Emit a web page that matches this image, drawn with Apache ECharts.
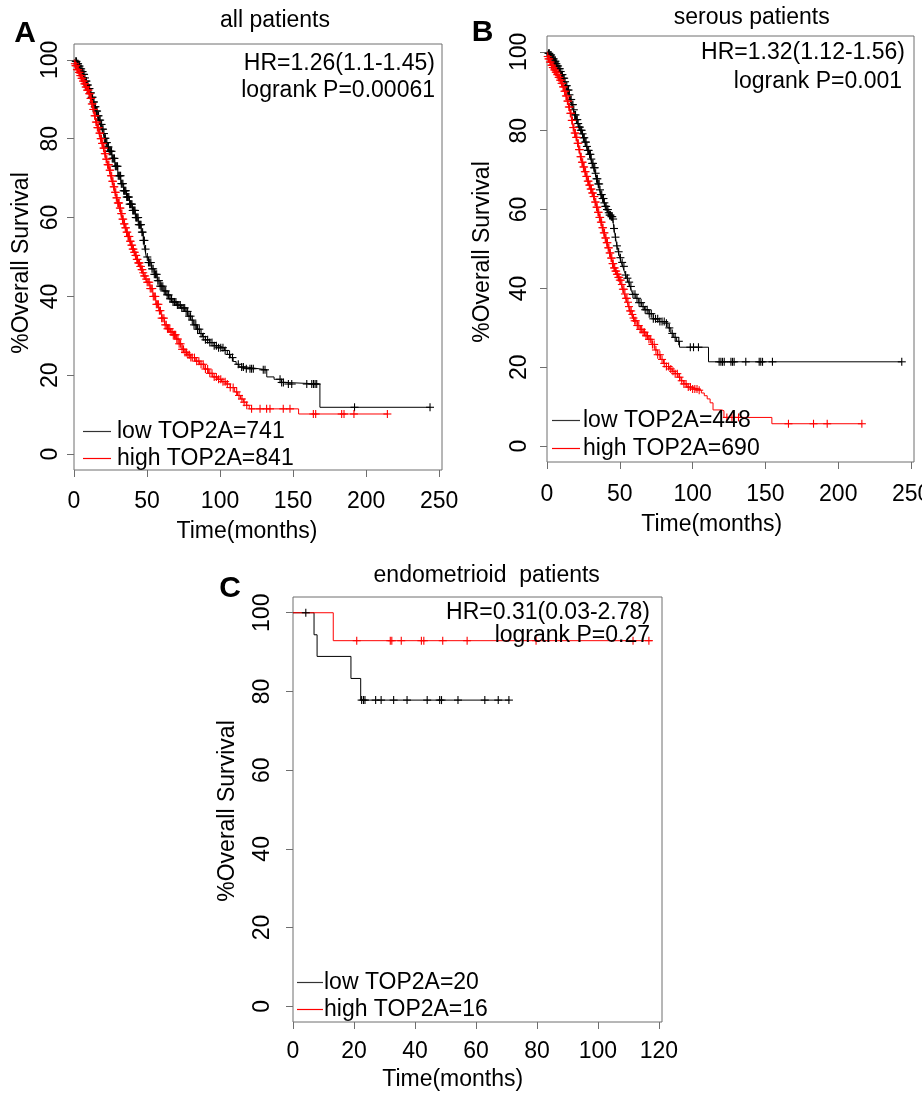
<!DOCTYPE html>
<html>
<head>
<meta charset="utf-8">
<title>TOP2A overall survival</title>
<script src="https://cdn.jsdelivr.net/npm/echarts@6/dist/echarts.min.js"></script>
<style>
  html, body { margin: 0; background: #fff; }
  #chart { width: 922px; height: 1093px; }
</style>
</head>
<body>
<div id="chart"></div>
<script>
// survival curves: [months, % alive] at each step, plus censor times (months)

// A - all patients
const allLowSteps = [[0,100],[1,99.6],[2,99],[3,98.4],[4,97.7],[5,97],[6,96.3],[7,95.4],[8,94.6],[9,93.6],[10,92.7],[11,91.6],[12,90.5],[13,89.3],[14,88.1],[15,87],[16,85.8],[17,84.7],[18,83.6],[19,82.4],[20,81.3],[21,80.1],[22,79],[23,77.9],[24,76.8],[26,75],[28,73],[30,70.6],[32,68.6],[34,66.8],[36,65.2],[38,63.4],[40,61.8],[42,60],[44,58.2],[46,56.3],[47.5,54.2],[48.5,52],[49.5,50],[51,48.6],[53,47],[55,45.6],[57,44],[59,42.6],[61,41.4],[63,40.4],[65,39.4],[67,38.6],[70,37.8],[73,37.1],[76,36.2],[78,35],[80,34],[82,32.8],[84,31.7],[86,30.6],[88,29.8],[90,29],[93,28.3],[96,27.5],[99,27],[103,26.3],[105,25.3],[107,24.5],[109,23.5],[111,22.8],[113,22.1],[118,21.7],[126,21.4],[132,19.6],[137,19],[142,18.2],[145,17.8],[168.4,11.9],[243.8,11.9]];
const allHighSteps = [[0,100],[0.5,99],[1,98.5],[2,97.5],[3,96.8],[4,96],[5,95.3],[6,94.6],[7,93.9],[8,93.1],[9,92.3],[10,91.4],[11,90.2],[12,88.8],[13,87.4],[14,85.8],[15,84.2],[16,82.8],[17,81.4],[18,80],[19,78.8],[20,77.6],[21,76.2],[22,74.8],[23,73.4],[24,72],[25,70.6],[26,69.2],[27,67.8],[28,66.4],[29,65],[30,63.7],[31,62.4],[32,61],[33,59.6],[34,58.4],[35,57.4],[36,56.3],[37,55.2],[38,54],[39,53],[40,52],[41,51.2],[42,50.4],[43,49.4],[44,48.5],[45,47.6],[46,46.8],[47,46],[48,45.2],[49,44.4],[50,43.6],[52,42],[54,40],[56,38],[58,36.4],[60,34.5],[62,32.8],[64,31.8],[66,31],[68,30.3],[70,29.2],[72,28],[74,26.6],[76,25.8],[78,25.2],[80,24.5],[83,23.6],[86,22.8],[89,21.6],[92,20.5],[95,19.6],[98,19],[101,18.4],[104,17.8],[107,16.9],[110,15.8],[112,14.9],[114,14],[116,13.2],[118,12.4],[120,11.5],[153.8,10.2],[215,10.2]];
const allLowCensor = [1.2,1.7,2.3,2.8,3.3,3.8,4.3,4.9,5.4,5.9,6.4,6.9,7.5,8,8.5,9,9.5,10.1,10.6,11.1,11.6,12.1,12.7,13.2,13.7,14.2,14.7,15.3,15.8,16.3,16.8,17.3,17.9,18.4,18.9,19.4,19.9,20.5,21,21.5,22,22.5,23.1,23.6,24.1,24.6,25.1,25.7,26.2,26.7,27.2,27.7,28.3,28.8,29.3,29.8,30.3,30.9,31.4,31.9,32.4,32.9,33.5,34,34.5,35,35.5,36.1,36.6,37.1,37.6,38.1,38.7,39.2,39.7,40.2,40.7,41.3,41.8,42.3,42.8,43.3,43.9,44.4,44.9,45.4,45.9,46.5,47,47.5,48.2,49,50.2,51,51.8,52.6,53.4,54.2,55,55.8,56.6,57.4,58.2,59,59.8,60.8,61.8,62.8,63.8,64.8,65.8,66.8,67.8,68.8,69.8,70.8,71.8,72.8,73.8,74.8,75.8,76.8,77.8,78.8,79.8,81,82.2,83.4,84.6,85.8,87,88.5,90,91.5,93,94.5,96,97.5,99,100.5,102,103.5,106.5,108.5,112.5,114.8,116,118,120.5,121.6,122.8,129.6,130.8,141.1,142.2,143.4,146.8,149.1,159.4,162.8,164,165.1,166.2,192.1,243.8];
const allHighCensor = [0.6,1,1.5,2,2.4,2.9,3.4,3.8,4.3,4.8,5.2,5.7,6.2,6.6,7.1,7.6,8,8.5,9,9.4,9.9,10.4,10.8,11.3,11.8,12.2,12.7,13.2,13.6,14.1,14.6,15,15.5,16,16.4,16.9,17.4,17.8,18.3,18.8,19.2,19.7,20.2,20.6,21.1,21.6,22,22.5,23,23.4,23.9,24.4,24.8,25.3,25.8,26.2,26.7,27.2,27.6,28.1,28.6,29,29.5,30,30.4,30.9,31.4,31.8,32.3,32.8,33.2,33.7,34.2,34.6,35.1,35.6,36,36.5,37,37.4,37.9,38.4,38.8,39.3,39.8,40.2,40.7,41.2,41.6,42.1,42.6,43,43.5,44,44.4,44.9,45.4,45.8,46.3,46.8,47.4,48,48.7,49.4,50.1,50.8,51.5,52.2,52.9,53.6,54.3,55,55.7,56.4,57.1,57.8,58.5,59.2,60,60.8,61.6,62.4,63.2,64,64.8,65.6,66.4,67.2,68,68.8,69.6,70.4,71.2,72,73,74,75,76,77,78,79,80,81,82.5,84,85.5,87,88.5,90,91.5,93,94.5,96,97.5,99,100.5,102,103.5,105,107,109,111.4,113,115,116.5,118.3,121.6,127.4,131.9,134.2,143.3,147.9,163.9,165.5,183.3,184.9,191.7,214.6];

// B - serous patients
const serLowSteps = [[0,100],[1,99.6],[2,99.2],[3,98.7],[4,98.2],[5,97.6],[6,97],[7,96.4],[8,95.7],[9,95],[10,94.2],[11,93.3],[12,92.4],[13,91.4],[14,90.3],[15,89.1],[16,87.9],[17,86.6],[18,85.3],[19,84],[20,82.8],[21,81.8],[22,80.9],[23,80.1],[24,79.2],[25,78.2],[26,77.1],[27,76],[28,75],[29,74],[30,72.8],[31,71.7],[32,70.6],[33,69.2],[34,67.8],[35,66.5],[36,65],[37,63.8],[38,62.8],[39,61.7],[40,60.8],[41,60],[42,59.2],[43,58.6],[44,58.2],[45,57.6],[45.5,56.5],[46,55.2],[47,53],[48,50.8],[49,49.3],[50,47.8],[51,46.6],[52,45.6],[53,44.4],[54,43.4],[55,42.6],[56,41.6],[57,40.5],[58,39.4],[59,38.5],[61,37.5],[63,36.4],[65,35.4],[67,34.6],[70,33.6],[73,32.3],[77,31.6],[81,31.2],[83,30],[85,28.6],[87,27.6],[89,26.6],[91,25.1],[110.9,21.4],[243.6,21.4]];
const serHighSteps = [[0,100],[0.5,98.8],[1,98.2],[2,97.4],[3,96.6],[4,96],[5,95.4],[6,94.8],[7,94.2],[8,93.5],[9,92.8],[10,92],[11,91.1],[12,90],[13,88.8],[14,87.5],[15,86],[16,84.4],[17,82.6],[18,80.8],[19,79.4],[20,78.3],[21,76.8],[22,75.2],[23,73.4],[24,72],[25,70.8],[26,69.6],[27,68.4],[28,67.2],[29,66.2],[30,65.2],[31,64.2],[32,63.3],[33,61.9],[34,60.6],[35,59.3],[36,58],[37,56.8],[38,55.4],[39,54.1],[40,52.8],[41,51.6],[42,50.3],[43,49],[44,47.7],[45,46.3],[46,45.2],[47,44.4],[48,43.6],[49,42.8],[50,42.1],[51,41],[52,39.8],[53,38.6],[54,37.5],[55,36.5],[56,35.4],[57,34.3],[58,33.4],[59,32.5],[60,31.8],[62,30.6],[64,29.6],[66,28.9],[68,28],[70,27.1],[72,25.8],[74,24.4],[76,23.2],[78,22],[80,21],[82,20.2],[84,19.6],[86,19],[88,18.4],[90,17.5],[92,16.6],[94,15.8],[96,15],[99,14.5],[104,14.2],[106,13.5],[108,12.8],[110,12],[112,11],[114,9.2],[120,9],[121.5,7.3],[154.4,5.7],[216.2,5.7]];
const serLowCensor = [1,1.6,2.2,2.8,3.4,4,4.6,5.2,5.8,6.4,7,7.6,8.2,8.8,9.4,10,10.6,11.2,11.8,12.4,13,13.6,14.2,14.8,15.4,16,16.6,17.2,17.8,18.4,19,19.6,20.2,20.8,21.4,22,22.6,23.2,23.8,24.4,25,25.6,26.2,26.8,27.4,28,28.6,29.2,29.8,30.4,31,31.6,32.2,32.8,33.4,34,34.6,35.2,35.8,36.4,37,37.6,38.2,38.8,39.4,40,40.6,41.2,41.8,42.4,43,43.6,44.2,44.8,45.4,46,47,48,49.2,50.4,51.6,52.8,54,55.2,56.4,57.6,59,60.4,61.8,63.2,64.6,66,67.4,68.8,70.2,71.6,73,74.5,76,77.5,79,80.5,82,84,86,88,90.5,98.4,100.6,104,118.2,119.4,120.5,121.7,126.3,127.4,128.5,136.5,145.7,146.8,148,154.8,243.6];
const serHighCensor = [0.5,1,1.5,2,2.5,3,3.5,4,4.5,5,5.5,6,6.5,7,7.5,8,8.5,9,9.5,10,10.5,11,11.5,12,12.5,13,13.5,14,14.5,15,15.5,16,16.5,17,17.5,18,18.5,19,19.5,20,20.5,21,21.5,22,22.5,23,23.5,24,24.5,25,25.5,26,26.5,27,27.5,28,28.5,29,29.5,30,30.5,31,31.5,32,32.5,33,33.5,34,34.5,35,35.5,36,36.5,37,37.5,38,38.5,39,39.5,40,40.5,41,41.5,42,42.5,43,43.5,44,44.5,45,45.5,46,46.5,47,47.5,48,48.5,49,49.5,50,50.7,51.4,52.1,52.8,53.5,54.2,54.9,55.6,56.3,57,57.8,58.6,59.4,60.2,61,62,63,64,65,66,67,68,69,70,71.2,72.4,73.6,74.8,76,77.5,79,80.5,82,83.5,85,86.5,88,89.5,91,92.5,94,95.5,97,98.5,100,101.5,103,104.5,123.5,127,131.5,165.8,183,192.4,216.2];

// C - endometrioid patients
const endoLowSteps = [[0,100],[6.9,94.4],[7.9,88.9],[19,83.3],[22.2,77.8],[71,77.8]];
const endoHighSteps = [[0,100],[13.2,92.9],[117.8,92.9]];
const endoLowCensor = [4.2,22.5,23.1,23.6,27.1,28.9,33,37.4,44,48.1,48.7,54.1,62.9,67.3,70.8];
const endoHighCensor = [20.9,31.9,32.4,35.5,42.1,42.9,49.1,57.1,79.7,111.5,116.7];

// axis ticks
const survivalTicks = [0, 20, 40, 60, 80, 100];
const monthTicksLong = [0, 50, 100, 150, 200, 250];
const monthTicksShort = [0, 20, 40, 60, 80, 100, 120];

const panels = [
  { letter: 'A', title: 'all patients', hr: 'HR=1.26(1.1-1.45)', p: 'logrank P=0.00061',
    low: { name: 'low TOP2A=741', steps: allLowSteps, censor: allLowCensor },
    high: { name: 'high TOP2A=841', steps: allHighSteps, censor: allHighCensor },
    xTicks: monthTicksLong, xMax: 252 },
  { letter: 'B', title: 'serous patients', hr: 'HR=1.32(1.12-1.56)', p: 'logrank P=0.001',
    low: { name: 'low TOP2A=448', steps: serLowSteps, censor: serLowCensor },
    high: { name: 'high TOP2A=690', steps: serHighSteps, censor: serHighCensor },
    xTicks: monthTicksLong, xMax: 252 },
  { letter: 'C', title: 'endometrioid  patients', hr: 'HR=0.31(0.03-2.78)', p: 'logrank P=0.27',
    low: { name: 'low TOP2A=20', steps: endoLowSteps, censor: endoLowCensor },
    high: { name: 'high TOP2A=16', steps: endoHighSteps, censor: endoHighCensor },
    xTicks: monthTicksShort, xMax: 121 }
];

// layout (px) per panel; key = [line x0, line x1, text x, row1 y, row2 y]
const layout = [
  { grid: { left: 74, top: 44, width: 368, height: 426 }, xMargin: 20, yMargin: 12,
    key: [83, 111, 117, 431.5, 458.5],
    letter: [25, 34], title: [275, 21], hr: [435, 64], p: [435, 91], xName: [247, 532], yName: [22, 263] },
  { grid: { left: 547, top: 36, width: 367, height: 426 }, xMargin: 21, yMargin: 16,
    key: [552, 580, 583, 420.5, 448.5],
    letter: [482.5, 32.5], title: [751.7, 17.5], hr: [905, 52.5], p: [902, 82], xName: [711.7, 525], yName: [483, 252] },
  { grid: { left: 293, top: 597, width: 369, height: 425 }, xMargin: 18, yMargin: 19,
    key: [297, 323, 324, 982.5, 1009.5],
    letter: [230, 589], title: [486.7, 575.3], hr: [650, 612.6], p: [650, 635.4], xName: [452.7, 1079.7], yName: [228, 811] }
];

const FONT = '"Liberation Sans", Arial, Helvetica, sans-serif';
const GREY = '#6e6e6e';
const LOW_COLOR = '#000000';
const HIGH_COLOR = '#ff0000';

// KM value at time t (last step at or before t)
function survAt(steps, t) {
  let s = steps[0][1];
  for (const pt of steps) {
    if (pt[0] <= t) s = pt[1]; else break;
  }
  return s;
}

function curve(group, color, i) {
  return {
    type: 'line', name: group.name, xAxisIndex: i, yAxisIndex: i,
    data: group.steps, step: 'end', symbol: 'none', showSymbol: false,
    lineStyle: { color: color, width: 1 }, itemStyle: { color: color },
    silent: true, z: 2
  };
}

// '+' at every censored time, sitting on the curve
function censorMarks(group, color, i) {
  return {
    type: 'custom', name: group.name, xAxisIndex: i, yAxisIndex: i,
    data: group.censor.map(t => [t, survAt(group.steps, t)]),
    itemStyle: { color: color }, silent: true, z: 3,
    renderItem: function (params, api) {
      const c = api.coord([api.value(0), api.value(1)]);
      return {
        type: 'group',
        children: [
          { type: 'line', shape: { x1: c[0], y1: c[1] - 4, x2: c[0], y2: c[1] + 4 }, style: { stroke: color, lineWidth: 1.1 } },
          { type: 'line', shape: { x1: c[0] - 4, y1: c[1], x2: c[0] + 4, y2: c[1] }, style: { stroke: color, lineWidth: 1.1 } }
        ]
      };
    }
  };
}

function label(text, pos, opts) {
  opts = opts || {};
  return {
    type: 'text', x: pos[0], y: pos[1], rotation: opts.rotation || 0, silent: true, z: 50,
    style: {
      text: text, fill: '#000', fontFamily: FONT,
      fontSize: opts.size || 23, fontWeight: opts.weight || 'normal',
      align: opts.align || 'center', verticalAlign: 'middle'
    }
  };
}

function keyLine(x0, x1, y, color) {
  return { type: 'line', silent: true, z: 50, shape: { x1: x0, y1: y, x2: x1, y2: y },
    style: { stroke: color, lineWidth: 1.2 } };
}

const grids = [], xAxes = [], yAxes = [], series = [], texts = [];

panels.forEach((pn, i) => {
  const lay = layout[i];
  grids.push(Object.assign({ show: true, borderColor: GREY, borderWidth: 1,
    backgroundColor: 'transparent', containLabel: false, outerBoundsMode: 'none' }, lay.grid));

  xAxes.push({
    type: 'value', gridIndex: i, min: 0, max: pn.xMax, position: 'bottom',
    axisLine: { show: false, onZero: false },
    splitLine: { show: false },
    axisTick: { show: true, length: 7, customValues: pn.xTicks, lineStyle: { color: GREY, width: 1 } },
    axisLabel: { customValues: pn.xTicks, margin: lay.xMargin, fontSize: 23, color: '#000', fontFamily: FONT }
  });
  yAxes.push({
    type: 'value', gridIndex: i, min: -4, max: 104, position: 'left',
    axisLine: { show: false, onZero: false },
    splitLine: { show: false },
    axisTick: { show: true, length: 7, customValues: survivalTicks, lineStyle: { color: GREY, width: 1 } },
    axisLabel: { customValues: survivalTicks, rotate: 90, margin: lay.yMargin, fontSize: 23, color: '#000', fontFamily: FONT }
  });

  series.push(curve(pn.low, LOW_COLOR, i), censorMarks(pn.low, LOW_COLOR, i));
  series.push(curve(pn.high, HIGH_COLOR, i), censorMarks(pn.high, HIGH_COLOR, i));

  const k = lay.key;
  texts.push(
    label(pn.letter, lay.letter, { size: 30, weight: 'bold' }),
    label(pn.title, lay.title),
    label(pn.hr, lay.hr, { align: 'right' }),
    label(pn.p, lay.p, { align: 'right' }),
    label('Time(months)', lay.xName),
    label('%Overall Survival', lay.yName, { rotation: Math.PI / 2 }),
    keyLine(k[0], k[1], k[3], '#333333'),
    keyLine(k[0], k[1], k[4], HIGH_COLOR),
    label(pn.low.name, [k[2], k[3]], { align: 'left' }),
    label(pn.high.name, [k[2], k[4]], { align: 'left' })
  );
});

const chart = echarts.init(document.getElementById('chart'), null, { renderer: 'canvas' });
chart.setOption({
  animation: false,
  backgroundColor: '#ffffff',
  textStyle: { fontFamily: FONT },
  grid: grids,
  xAxis: xAxes,
  yAxis: yAxes,
  series: series,
  graphic: texts
});
</script>
</body>
</html>
